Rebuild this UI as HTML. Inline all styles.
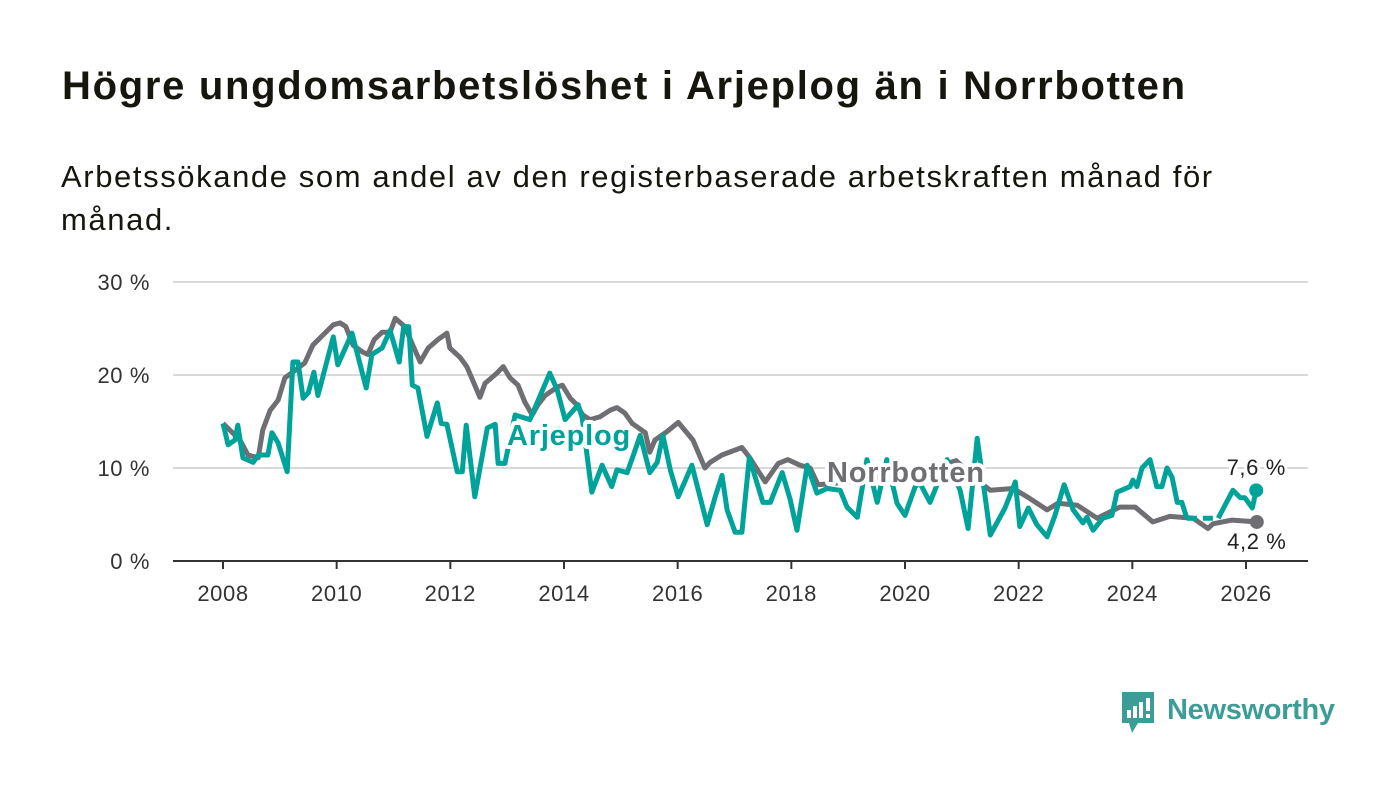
<!DOCTYPE html>
<html><head><meta charset="utf-8">
<style>
html,body{margin:0;padding:0;background:#fff;}
body{width:1400px;height:794px;position:relative;overflow:hidden;font-family:"Liberation Sans",sans-serif;}
#title{position:absolute;left:62px;top:64px;font-size:40px;font-weight:bold;color:#16160f;white-space:nowrap;letter-spacing:1.7px;}
#sub{position:absolute;left:61px;top:155px;font-size:31px;line-height:43px;color:#16160f;letter-spacing:1.6px;white-space:nowrap;}
svg{position:absolute;left:0;top:0;}
</style></head><body>
<div id="title">Högre ungdomsarbetslöshet i Arjeplog än i Norrbotten</div>
<div id="sub">Arbetssökande som andel av den registerbaserade arbetskraften månad för<br>månad.</div>
<svg id="chart" width="1400" height="794"></svg>
<script>
const yTicks=[0,10,20,30];
const yTickLabels=["0 %","10 %","20 %","30 %"];
const xTicks=[2008,2010,2012,2014,2016,2018,2020,2022,2024,2026];
const norrDates=[2008.00,2008.30,2008.44,2008.62,2008.70,2008.83,2008.97,2009.09,2009.27,2009.44,2009.58,2009.76,2009.94,2010.06,2010.16,2010.29,2010.45,2010.55,2010.66,2010.80,2010.94,2011.03,2011.20,2011.34,2011.47,2011.61,2011.78,2011.94,2011.99,2012.17,2012.29,2012.43,2012.52,2012.61,2012.82,2012.93,2013.05,2013.19,2013.31,2013.44,2013.54,2013.67,2013.88,2013.97,2014.11,2014.21,2014.33,2014.46,2014.63,2014.81,2014.93,2015.07,2015.20,2015.43,2015.51,2015.60,2015.81,2016.01,2016.27,2016.48,2016.57,2016.78,2017.13,2017.27,2017.54,2017.77,2017.94,2018.15,2018.33,2018.47,2019.0,2019.5,2020.0,2020.5,2020.9,2021.2,2021.50,2021.90,2022.15,2022.50,2022.69,2023.03,2023.38,2023.78,2024.05,2024.36,2024.66,2025.07,2025.33,2025.42,2025.75,2026.19];
const norrValues=[14.8,13.0,11.4,11.1,14.1,16.2,17.3,19.7,20.5,21.3,23.2,24.3,25.4,25.6,25.2,23.2,22.5,22.2,23.8,24.6,24.6,26.1,25.2,23.2,21.4,22.9,23.8,24.5,22.9,21.9,20.9,18.9,17.6,19.1,20.2,20.9,19.7,18.9,17.1,15.7,16.8,17.8,18.7,18.9,17.5,16.9,15.7,15.2,15.5,16.2,16.5,15.9,14.8,13.8,11.7,13.0,13.9,14.9,13.0,10.0,10.6,11.4,12.2,11.1,8.5,10.5,10.9,10.3,10.0,8.2,8.5,9.0,9.5,10.0,10.8,9.0,7.6,7.8,6.9,5.5,6.2,6.0,4.6,5.8,5.8,4.2,4.8,4.6,3.5,4.0,4.4,4.2];
const arjDates=[2008.00,2008.09,2008.21,2008.26,2008.35,2008.53,2008.62,2008.79,2008.86,2008.97,2009.13,2009.23,2009.32,2009.41,2009.50,2009.60,2009.67,2009.94,2010.02,2010.27,2010.52,2010.62,2010.80,2010.94,2011.10,2011.18,2011.27,2011.33,2011.43,2011.59,2011.77,2011.84,2011.94,2012.12,2012.21,2012.28,2012.43,2012.65,2012.79,2012.84,2012.96,2013.14,2013.40,2013.75,2013.88,2014.02,2014.25,2014.32,2014.49,2014.67,2014.84,2014.93,2015.11,2015.21,2015.34,2015.51,2015.64,2015.74,2015.87,2016.01,2016.25,2016.52,2016.66,2016.78,2016.87,2017.01,2017.13,2017.26,2017.50,2017.63,2017.84,2017.98,2018.10,2018.28,2018.45,2018.63,2018.86,2018.98,2019.16,2019.33,2019.51,2019.68,2019.86,2020.00,2020.18,2020.26,2020.44,2020.74,2020.97,2021.11,2021.27,2021.50,2021.76,2021.94,2022.02,2022.17,2022.32,2022.50,2022.64,2022.80,2022.96,2023.13,2023.20,2023.31,2023.48,2023.64,2023.73,2023.96,2024.01,2024.08,2024.17,2024.31,2024.43,2024.52,2024.61,2024.70,2024.79,2024.87,2024.96,2025.2,2025.51,2025.77,2025.90,2025.98,2026.11,2026.18];
const arjValues=[14.8,12.5,13.0,14.6,11.1,10.6,11.4,11.4,13.8,12.7,9.6,21.4,21.4,17.5,18.1,20.3,17.8,24.1,21.1,24.5,18.6,22.2,22.9,24.8,21.4,25.2,25.2,18.9,18.6,13.4,17.0,14.8,14.7,9.6,9.6,14.6,6.9,14.3,14.7,10.5,10.5,15.7,15.2,20.2,18.4,15.2,16.8,15.4,7.4,10.3,8.0,9.8,9.5,11.2,13.5,9.5,10.6,13.5,9.8,6.9,10.3,3.9,6.9,9.2,5.5,3.1,3.1,11.1,6.3,6.3,9.5,6.6,3.3,10.3,7.3,7.8,7.6,5.8,4.7,10.9,6.3,10.9,6.2,4.9,8.0,8.4,6.3,10.9,7.6,3.5,13.2,2.8,5.7,8.5,3.7,5.7,3.9,2.6,4.9,8.2,5.5,4.1,4.7,3.3,4.6,4.9,7.4,8.0,8.7,8.0,10.0,10.9,8.0,8.0,10.0,9.0,6.3,6.3,4.6,null,4.6,7.6,6.8,6.8,5.7,7.6];

const NS="http://www.w3.org/2000/svg";
const svg=document.getElementById('chart');
const X0=173,X1=1308;
const xs=y=>223+(y-2008)*(1246-223)/18;
const ys=v=>561-v*(561-282)/30;
function mk(t,a,p){const e=document.createElementNS(NS,t);for(const k in a)e.setAttribute(k,a[k]);(p||svg).appendChild(e);return e;}
yTicks.forEach((t,i)=>{
  const g=mk('line',{x1:X0,x2:X1,y1:ys(t),y2:ys(t),stroke:t===0?'#333':'#d9d9d9','stroke-width':2});
  
  
  const tx=mk('text',{x:150,y:ys(t)+8,'text-anchor':'end','font-size':22,fill:'#333','font-family':'Liberation Sans, sans-serif','letter-spacing':'0.6'});
  tx.textContent=yTickLabels[i];
  
  
});
xTicks.forEach(t=>{
  const l=mk('line',{x1:xs(t),x2:xs(t),y1:561,y2:569,stroke:'#333','stroke-width':2});
  
  
  const tx=mk('text',{x:xs(t),y:601,'text-anchor':'middle','font-size':22,fill:'#333','font-family':'Liberation Sans, sans-serif','letter-spacing':'0.6'});
  tx.textContent=t;
  
  
});
function pathFor(d,v){let s='',pen=false;d.forEach((x,i)=>{if(v[i]==null){pen=false;return;}s+=(pen?'L':'M')+xs(x).toFixed(1)+','+ys(v[i]).toFixed(1);pen=true;});return s;}
const pn=mk('path',{d:pathFor(norrDates,norrValues),fill:'none',stroke:'#6f6e73','stroke-width':5,'stroke-linejoin':'round'});


let dd='';
arjValues.forEach((v,i)=>{if(v==null&&i>0&&i<arjValues.length-1){dd+='M'+xs(arjDates[i-1])+','+ys(arjValues[i-1])+'L'+xs(arjDates[i+1])+','+ys(arjValues[i+1]);}});
const pd=mk('path',{d:dd,fill:'none',stroke:'#00a39a','stroke-width':5,'stroke-dasharray':'10,6'});


const pa=mk('path',{d:pathFor(arjDates,arjValues),fill:'none',stroke:'#00a39a','stroke-width':5,'stroke-linejoin':'round'});


const nl=norrValues.length-1, al=arjValues.length-1;
const d1=mk('circle',{cx:xs(norrDates[nl]),cy:ys(norrValues[nl]),r:7,fill:'#6f6e73'});


const d2=mk('circle',{cx:xs(arjDates[al]),cy:ys(arjValues[al]),r:7,fill:'#00a39a'});


function lab(txt,x,y,col,name,bold){const t=mk('text',{x:x,y:y,'font-size':bold?29:22,'font-weight':bold?'bold':'normal',fill:col,stroke:'#fff','stroke-width':bold?8:6,'paint-order':'stroke','stroke-linejoin':'round','font-family':'Liberation Sans, sans-serif','text-anchor':bold?'start':'middle','letter-spacing':bold?'0.8':'0.6'});t.textContent=txt;

}
lab('Arjeplog',507,445,'#00a39a','arjeplog-label',true);
lab('Norrbotten',827,482,'#6f6e73','norrbotten-label',true);
lab('7,6 %',xs(arjDates[al]),475,'#222','arjeplog-end-value',false);
lab('4,2 %',xs(norrDates[nl]),549,'#222','norrbotten-end-value',false);
</script>
<svg width="1400" height="794" style="pointer-events:none">
<path d="M1122 692h32v31h-16l-6 10l-3-10h-7z" fill="#3b9d95"/>
<rect x="1127" y="710" width="4" height="8" fill="#fff"/><rect x="1133" y="706" width="4" height="12" fill="#fff"/><rect x="1139" y="702" width="4" height="16" fill="#fff"/><rect x="1146" y="698" width="4" height="13" fill="#fff"/><rect x="1146" y="714" width="4" height="4" fill="#fff"/>
<text x="1167" y="719" font-size="29" font-weight="bold" fill="#3b9d95" font-family="Liberation Sans, sans-serif" textLength="168">Newsworthy</text>
</svg>
</body></html>
